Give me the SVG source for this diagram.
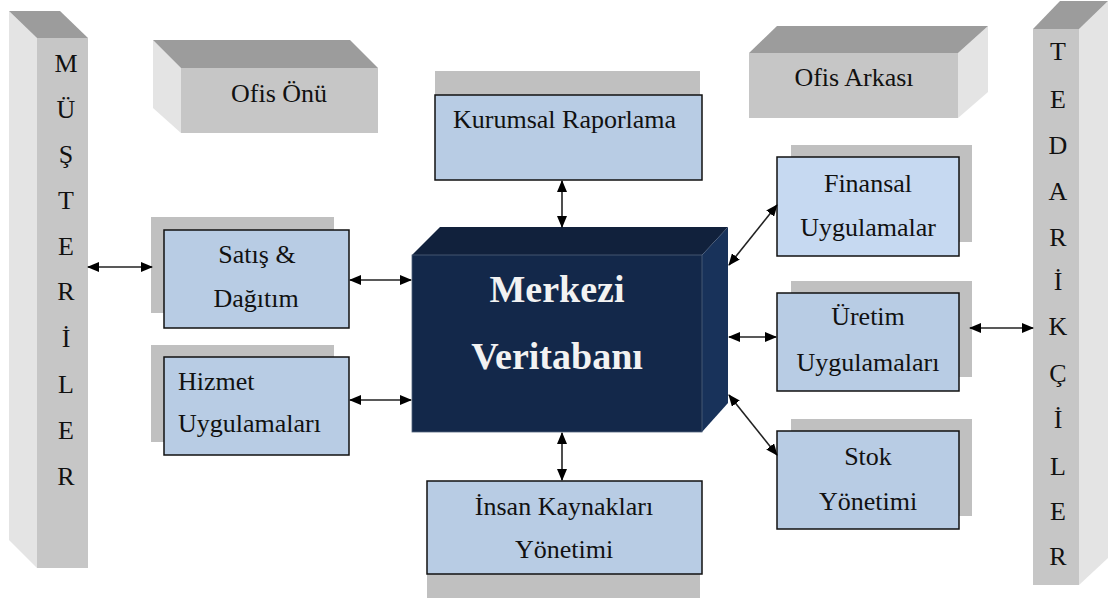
<svg xmlns="http://www.w3.org/2000/svg" width="1109" height="603" viewBox="0 0 1109 603">
  <defs>
    <marker id="ah" viewBox="0 0 12 10" refX="11" refY="5" markerWidth="12" markerHeight="10" markerUnits="userSpaceOnUse" orient="auto-start-reverse">
      <path d="M0,0 L12,5 L0,10 z" fill="#000"/>
    </marker>
  </defs>
  <style>
    text { font-family: "Liberation Serif", "Times New Roman", serif; font-size: 26px; fill: #111; }
    .mid { text-anchor: middle; }
    .face { fill: #c6c6c6; }
    .side { fill: #e4e4e4; }
    .top { fill: #9c9c9c; }
    .shadow { fill: #c0c0c0; }
    .box { fill: #b8cce4; stroke: #111; stroke-width: 1.5; }
    .box-light { fill: #c6d9f1; stroke: #111; stroke-width: 1.5; }
    .conn { stroke: #222; stroke-width: 1.6; fill: none; marker-start: url(#ah); marker-end: url(#ah); }
    .big { font-size: 38px; font-weight: bold; fill: #f2f2f2; }
  </style>

  <rect width="1109" height="603" fill="#fff"/>

  <!-- Left pillar: customers -->
  <g id="musteriler">
    <polygon class="side" points="9,11 37,38 37,568 9,540"/>
    <polygon class="top" points="9,11 60,11 88,38 37,38"/>
    <rect class="face" x="37" y="38" width="51" height="530"/>
    <g class="mid">
      <text x="66" y="72">M</text>
      <text x="66" y="118">Ü</text>
      <text x="66" y="163">Ş</text>
      <text x="66" y="209">T</text>
      <text x="66" y="255">E</text>
      <text x="66" y="300">R</text>
      <text x="66" y="347">İ</text>
      <text x="66" y="393">L</text>
      <text x="66" y="439">E</text>
      <text x="66" y="485">R</text>
    </g>
  </g>

  <!-- Right pillar: suppliers -->
  <g id="tedarikciler">
    <polygon class="side" points="1079,29 1108,1 1108,558 1079,585"/>
    <polygon class="top" points="1033,29 1060,1 1108,1 1079,29"/>
    <rect class="face" x="1033" y="29" width="46" height="556"/>
    <g class="mid">
      <text x="1058" y="60">T</text>
      <text x="1058" y="108">E</text>
      <text x="1058" y="154">D</text>
      <text x="1058" y="200">A</text>
      <text x="1058" y="246">R</text>
      <text x="1058" y="290">İ</text>
      <text x="1058" y="335">K</text>
      <text x="1058" y="382">Ç</text>
      <text x="1058" y="428">İ</text>
      <text x="1058" y="475">L</text>
      <text x="1058" y="520">E</text>
      <text x="1058" y="565">R</text>
    </g>
  </g>

  <!-- Front office block -->
  <g id="ofis-onu">
    <polygon class="side" points="153,40 181,68 181,133 153,108"/>
    <polygon class="top" points="153,40 350,40 378,68 181,68"/>
    <rect class="face" x="181" y="68" width="197" height="65"/>
    <text class="mid" x="279" y="102">Ofis Önü</text>
  </g>

  <!-- Back office block -->
  <g id="ofis-arkasi">
    <polygon class="side" points="958,53 988,26 988,92 958,118"/>
    <polygon class="top" points="749,53 777,26 988,26 958,53"/>
    <rect class="face" x="749" y="53" width="209" height="65"/>
    <text class="mid" x="854" y="86">Ofis Arkası</text>
  </g>

  <!-- Central database -->
  <g id="merkezi-veritabani">
    <polygon points="412,255 440,227 728,227 702,255" fill="#11213c"/>
    <polygon points="702,255 728,227 728,403 702,432" fill="#18325a"/>
    <rect x="412" y="255" width="290" height="177" fill="#13284a" stroke="#51627c" stroke-width="0.8"/>
    <text class="mid big" x="557" y="302">Merkezi</text>
    <text class="mid big" x="557" y="369">Veritabanı</text>
  </g>

  <g id="kurumsal-raporlama">
    <rect class="shadow" x="435" y="71" width="265" height="24"/>
    <rect class="box" x="435" y="95" width="267" height="85"/>
    <text x="453" y="128">Kurumsal Raporlama</text>
  </g>

  <g id="satis-dagitim">
    <rect class="shadow" x="151" y="217" width="183" height="96"/>
    <rect class="box" x="164" y="230" width="185" height="98"/>
    <text class="mid" x="257" y="263">Satış &amp;</text>
    <text class="mid" x="256" y="307">Dağıtım</text>
  </g>

  <g id="hizmet-uygulamalari">
    <rect class="shadow" x="151" y="345" width="183" height="97"/>
    <rect class="box" x="164" y="357" width="185" height="98"/>
    <text x="178" y="390">Hizmet</text>
    <text x="178" y="432">Uygulamaları</text>
  </g>

  <g id="insan-kaynaklari">
    <rect class="shadow" x="427" y="574" width="273" height="24"/>
    <rect class="box" x="427" y="481" width="275" height="93"/>
    <text class="mid" x="564" y="515">İnsan Kaynakları</text>
    <text class="mid" x="564" y="558">Yönetimi</text>
  </g>

  <g id="finansal-uygulamalar">
    <rect class="shadow" x="791" y="145" width="181" height="97"/>
    <rect class="box-light" x="777" y="157" width="182" height="99"/>
    <text class="mid" x="868" y="192">Finansal</text>
    <text class="mid" x="868" y="236">Uygulamalar</text>
  </g>

  <g id="uretim-uygulamalari">
    <rect class="shadow" x="791" y="281" width="181" height="96"/>
    <rect class="box" x="777" y="293" width="182" height="98"/>
    <text class="mid" x="868" y="325">Üretim</text>
    <text class="mid" x="868" y="371">Uygulamaları</text>
  </g>

  <g id="stok-yonetimi">
    <rect class="shadow" x="791" y="419" width="181" height="97"/>
    <rect class="box" x="777" y="431" width="182" height="98"/>
    <text class="mid" x="868" y="465">Stok</text>
    <text class="mid" x="868" y="510">Yönetimi</text>
  </g>

  <!-- Two-way links -->
  <g id="connectors">
    <line class="conn" x1="88" y1="267" x2="152" y2="267"/>
    <line class="conn" x1="350" y1="280" x2="411" y2="280"/>
    <line class="conn" x1="350" y1="400" x2="411" y2="400"/>
    <line class="conn" x1="562" y1="181" x2="562" y2="227"/>
    <line class="conn" x1="562" y1="433" x2="562" y2="480"/>
    <line class="conn" x1="729" y1="265" x2="777" y2="205"/>
    <line class="conn" x1="729" y1="337" x2="776" y2="337"/>
    <line class="conn" x1="729" y1="395" x2="777" y2="455"/>
    <line class="conn" x1="970" y1="328" x2="1033" y2="328"/>
  </g>
</svg>
